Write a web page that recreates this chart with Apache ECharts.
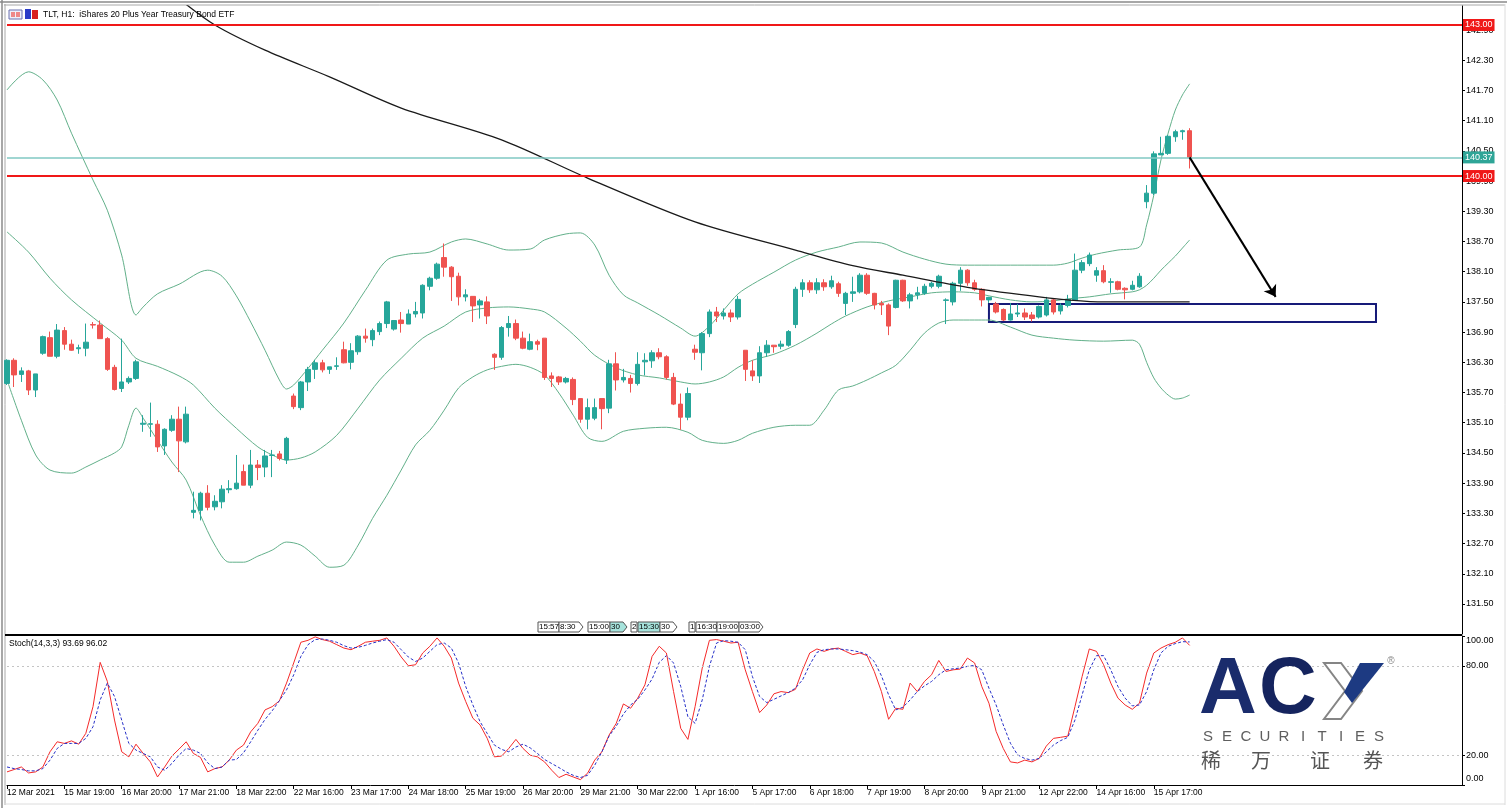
<!DOCTYPE html>
<html><head><meta charset="utf-8">
<script src="https://cdn.jsdelivr.net/npm/echarts/dist/echarts.min.js"></script>
<style>html,body{margin:0;padding:0;background:#fff}#c{width:1507px;height:808px}</style>
</head><body><div id="c"></div>
<script>
// ---------------- DATA ----------------
const dateLabels = ['12 Mar 2021','15 Mar 19:00','16 Mar 20:00','17 Mar 21:00','18 Mar 22:00','22 Mar 16:00','23 Mar 17:00','24 Mar 18:00','25 Mar 19:00','26 Mar 20:00','29 Mar 21:00','30 Mar 22:00','1 Apr 16:00','5 Apr 17:00','6 Apr 18:00','7 Apr 19:00','8 Apr 20:00','9 Apr 21:00','12 Apr 22:00','14 Apr 16:00','15 Apr 17:00'];
const labelStep = 8;
const slotCount = 204;

const opens = [135.88,136.34,136.06,136.13,135.75,136.48,136.79,136.42,136.93,136.66,
136.57,136.58,137.05,137.04,136.77,136.20,135.78,135.91,135.98,135.07,
135.07,135.07,134.64,134.95,135.17,134.72,133.32,133.36,133.70,133.43,
133.53,133.77,133.79,134.13,133.86,134.26,134.22,134.45,134.48,134.36,
135.63,135.40,135.91,136.16,136.29,136.16,136.22,136.55,136.30,136.51,
136.82,136.75,136.91,137.07,136.96,137.14,137.06,137.26,137.28,137.81,
137.97,138.38,138.19,138.01,137.60,137.61,137.44,137.50,136.46,136.40,
136.99,137.07,136.78,136.56,136.71,136.78,136.03,136.01,135.91,135.96,
135.58,135.17,135.19,135.58,135.39,136.27,135.95,135.98,135.88,136.31,
136.33,136.49,136.41,136.00,135.47,135.21,136.56,136.49,136.87,137.30,
137.22,137.28,137.20,136.54,136.13,136.03,136.49,136.64,136.62,136.64,
137.05,137.75,137.88,137.74,137.88,137.80,137.86,137.47,137.67,137.70,
138.03,137.67,137.47,137.44,137.39,137.93,137.52,137.64,137.67,137.81,
137.81,137.53,137.50,137.87,138.13,137.88,137.75,137.54,137.46,137.35,
137.14,137.26,137.28,137.24,137.20,137.24,137.54,137.32,137.43,137.54,
138.13,138.26,138.03,138.12,137.89,137.90,137.77,137.75,137.80,139.49,
139.66,140.42,140.45,140.78,140.88,140.90];
const closes = [136.34,136.05,136.13,135.75,136.07,136.81,136.42,136.94,136.66,136.54,
136.59,136.70,137.04,136.77,136.16,135.76,135.91,135.98,136.31,135.09,
135.08,134.62,134.97,135.17,134.74,135.27,133.36,133.70,133.42,133.54,
133.78,133.79,133.90,133.86,134.26,134.21,134.44,134.46,134.39,134.79,
135.42,135.91,136.16,136.29,136.15,136.21,136.23,136.29,136.53,136.82,
136.78,136.93,137.07,137.50,137.13,137.07,137.26,137.31,137.83,137.97,
138.25,138.19,138.00,137.60,137.64,137.42,137.52,137.22,136.40,136.99,
137.07,136.78,136.58,136.71,136.66,136.00,135.98,135.91,135.98,135.56,
135.17,135.40,135.40,135.38,136.27,135.95,136.00,135.88,136.26,136.34,
136.49,136.41,136.00,135.47,135.21,135.68,136.50,136.87,137.30,137.22,
137.28,137.20,137.55,136.16,136.03,136.49,136.64,136.61,136.66,136.91,
137.75,137.88,137.74,137.88,137.80,137.92,137.67,137.67,137.70,138.03,
137.67,137.44,137.44,137.02,137.93,137.52,137.64,137.68,137.81,137.87,
138.01,137.54,137.87,138.13,137.88,137.75,137.54,137.59,137.30,137.14,
137.26,137.28,137.20,137.17,137.41,137.54,137.30,137.43,137.55,138.13,
138.28,138.43,138.12,137.90,137.90,137.75,137.74,137.83,138.01,139.66,
140.44,140.45,140.79,140.88,140.90,140.37];
const lows = [135.85,135.81,135.91,135.65,135.61,136.45,136.42,136.38,136.55,136.53,
136.47,136.42,136.97,136.77,136.13,135.74,135.71,135.87,135.95,134.92,
134.82,134.52,134.46,134.92,134.12,134.69,133.20,133.16,133.36,133.36,
133.40,133.70,133.77,133.86,133.80,133.96,134.02,134.02,134.35,134.28,
135.37,135.35,135.73,135.97,136.10,136.07,136.15,136.28,136.16,136.45,
136.69,136.62,136.84,136.98,136.93,136.89,137.06,137.19,137.17,137.73,
137.94,138.00,137.52,137.43,137.51,137.10,137.17,137.06,136.15,136.35,
136.81,136.74,136.56,136.54,136.54,135.95,135.81,135.85,135.88,135.45,
135.10,134.97,135.15,134.97,135.29,135.74,135.90,135.70,135.84,136.04,
136.19,136.36,135.96,135.45,134.96,135.15,136.35,136.14,136.80,137.10,
137.15,137.10,137.15,135.93,135.93,135.89,136.41,136.49,136.56,136.61,
136.98,137.60,137.68,137.66,137.72,137.76,137.60,137.24,137.50,137.67,
137.64,137.35,137.24,136.84,137.37,137.50,137.37,137.55,137.64,137.77,
137.77,137.06,137.43,137.72,137.82,137.72,137.41,137.48,137.27,137.12,
137.13,137.20,137.14,137.11,137.17,137.21,137.25,137.25,137.39,137.52,
138.07,138.21,137.90,137.87,137.68,137.73,137.55,137.73,137.78,139.36,
139.62,140.42,140.42,140.68,140.72,140.15];
const highs = [136.36,136.38,136.20,136.15,136.07,136.83,136.91,137.06,137.00,136.75,
136.65,137.07,137.10,137.13,136.80,136.25,136.77,136.02,136.35,135.25,
135.50,135.15,134.99,135.25,135.42,135.42,133.73,133.73,133.86,133.66,
133.86,133.96,134.46,134.27,134.56,134.36,134.56,134.56,134.54,134.82,
135.68,135.93,136.21,136.35,136.35,136.21,136.40,136.71,136.68,136.84,
136.97,136.97,137.11,137.52,137.14,137.30,137.35,137.50,137.85,138.00,
138.28,138.66,138.21,138.08,137.75,137.61,137.56,137.61,136.48,137.02,
137.22,137.15,136.91,136.87,136.75,136.78,136.10,136.03,136.01,136.00,
135.58,135.58,135.58,135.58,136.35,136.50,136.17,136.05,136.50,136.48,
136.54,136.58,136.44,136.09,135.68,135.80,136.65,136.90,137.35,137.40,
137.37,137.35,137.62,136.54,136.34,136.62,136.74,136.64,136.73,136.94,
137.80,137.95,137.93,137.97,137.95,138.02,137.90,137.70,138.00,138.07,
138.07,137.68,137.52,137.47,137.94,137.94,137.68,137.80,137.86,137.90,
138.04,137.57,137.90,138.19,138.15,137.94,137.77,137.60,137.50,137.37,
137.48,137.46,137.37,137.30,137.43,137.60,137.57,137.47,137.64,138.46,
138.33,138.48,138.19,138.23,137.97,137.92,137.79,137.92,138.07,139.82,
140.49,140.78,140.81,140.92,140.92,140.95];

// Bollinger bands (read at sample bars)
const upperIdx = [0,3,5,7,9,12,14,16,18,19,21,24,28,30,32,34,36,38,39,40,42,44,47,50,53,56,59,62,64,67,70,73,75,78,80,82,84,86,88,91,94,96,98,100,102,104,107,110,113,116,119,122,125,128,131,134,138,142,146,148,150,152,155,158,159,160,161,162,163,164,165];
const upperVal = [141.71,142.07,141.91,141.51,140.85,139.92,139.32,138.43,137.24,137.40,137.66,137.85,138.13,138.01,137.62,137.10,136.54,135.95,135.77,135.85,136.18,136.54,137.08,137.73,138.33,138.45,138.49,138.69,138.75,138.65,138.53,138.55,138.73,138.85,138.87,138.63,138.03,137.64,137.48,137.24,136.98,136.82,137.02,137.34,137.66,137.85,138.09,138.33,138.49,138.59,138.69,138.67,138.49,138.35,138.25,138.23,138.23,138.23,138.23,138.27,138.37,138.45,138.53,138.59,139.03,139.62,140.32,140.85,141.31,141.61,141.83];
const middleIdx = [0,3,6,9,13,16,18,21,24,26,29,32,35,37,39,41,43,46,49,52,55,58,61,64,67,70,73,75,78,80,82,85,88,91,94,96,98,100,102,104,107,110,113,115,117,120,123,126,129,132,135,137,140,143,146,148,151,154,157,158,159,160,161,162,163,164,165];
const middleVal = [138.89,138.49,137.97,137.54,137.08,136.74,136.38,136.22,136.03,135.85,135.39,134.99,134.62,134.46,134.36,134.40,134.52,134.85,135.39,135.95,136.38,136.78,137.02,137.30,137.38,137.40,137.36,137.30,136.98,136.72,136.44,136.19,136.05,135.99,135.91,135.87,135.91,136.01,136.20,136.34,136.46,136.64,136.88,137.06,137.22,137.40,137.52,137.60,137.68,137.70,137.68,137.62,137.54,137.50,137.52,137.56,137.60,137.66,137.70,137.74,137.83,137.97,138.13,138.27,138.41,138.57,138.73];
const lowerIdx = [0,2,4,6,9,11,13,15,16,17,18,19,21,23,25,27,29,31,33,35,37,39,41,43,45,47,49,51,53,55,57,59,61,63,65,67,69,71,73,75,77,79,81,83,86,89,92,95,97,100,102,104,107,110,112,114,116,118,120,122,124,126,128,130,132,135,137,140,143,146,149,153,157,158,159,160,161,162,163,164,165];
const lowerVal = [135.95,135.15,134.46,134.16,134.10,134.22,134.36,134.50,134.62,135.05,135.39,135.19,134.75,134.32,133.96,133.26,132.67,132.33,132.33,132.45,132.57,132.73,132.67,132.45,132.23,132.27,132.67,133.20,133.66,134.16,134.66,134.95,135.35,135.79,136.01,136.15,136.22,136.26,136.20,136.05,135.69,135.25,134.81,134.73,134.93,134.99,135.01,134.91,134.75,134.69,134.75,134.89,135.01,135.05,135.05,135.35,135.75,135.83,135.95,136.09,136.24,136.54,136.88,137.08,137.14,137.14,137.14,137.00,136.84,136.78,136.74,136.72,136.74,136.66,136.30,135.99,135.79,135.65,135.57,135.59,135.65];

// moving average (black)
const maIdx = [24,29,36,45,55,69,81,96,110,118,125,134,144,148,153,165];
const maVal = [143.52,143.00,142.50,141.97,141.35,140.72,139.96,139.09,138.53,138.22,138.03,137.79,137.60,137.54,137.50,137.50];

// Stochastic (14,3,3)
const stochK = [8.8,10.4,12.1,8.1,8.8,12.1,22.3,29.0,27.9,29.6,
27.4,34.7,52.6,82.3,69.5,43.6,22.3,18.9,27.4,21.2,
15.5,5.4,12.1,19.4,24.1,29.0,21.2,18.5,8.8,11.0,
12.1,16.7,23.4,26.8,35.7,41.4,50.4,52.6,56.4,68.4,
81.9,95.8,97.1,99.4,97.6,96.5,94.2,91.9,90.8,93.1,
95.8,96.5,97.1,98.7,93.1,85.9,80.0,80.7,88.6,93.1,
98.7,93.1,85.2,68.4,56.0,44.8,40.3,31.3,18.9,19.4,
24.5,30.6,24.5,20.0,18.9,15.5,9.9,5.0,7.2,5.4,
3.6,7.9,16.7,22.3,33.5,41.4,54.4,51.5,58.3,67.2,
86.3,93.1,88.6,62.7,38.0,30.6,52.6,78.5,97.1,97.6,
96.5,95.3,95.8,77.3,62.7,48.6,53.7,61.2,62.7,62.0,
64.2,77.3,88.6,91.3,89.7,91.3,91.9,89.7,87.5,88.6,
86.8,76.2,62.7,44.1,51.5,50.8,68.4,62.7,69.5,74.0,
83.6,76.2,77.3,77.8,85.2,81.9,66.1,54.9,36.0,24.5,
15.5,14.8,16.7,15.5,17.8,26.1,31.3,32.0,32.8,52.6,
72.8,91.3,89.7,80.7,68.4,58.3,53.7,50.8,54.9,75.1,
88.6,91.9,94.2,95.8,98.7,93.69];
const stochD = [12.1,11.0,10.4,9.5,9.5,11.0,16.7,24.5,27.9,27.9,
27.9,31.3,39.1,57.1,68.4,59.4,43.6,27.9,23.4,21.2,
18.9,12.1,9.9,14.4,20.0,24.5,23.4,21.2,14.9,11.0,
12.1,16.7,17.1,21.6,29.0,36.8,44.0,49.8,56.6,63.8,
73.9,86.3,94.2,97.6,98.0,97.1,95.8,93.5,91.9,92.4,
93.7,95.3,96.5,97.6,95.8,90.8,85.9,82.9,85.2,89.7,
94.2,95.3,91.9,81.9,66.1,53.7,42.5,34.6,26.8,23.9,
22.3,25.5,27.4,24.9,21.2,17.1,14.4,11.7,8.8,6.5,
5.0,6.5,13.3,22.3,32.8,39.5,47.6,53.7,57.5,63.8,
71.1,82.3,86.8,81.9,66.1,45.8,41.4,57.1,79.6,95.3,
96.9,96.5,95.8,90.8,72.8,59.4,55.3,57.5,59.8,62.0,
65.0,70.6,80.7,89.0,90.8,91.3,91.3,90.8,90.2,89.2,
87.5,82.9,73.3,60.5,50.4,52.2,57.1,62.7,66.5,69.5,
74.0,77.3,78.0,78.5,79.6,80.3,77.3,65.0,53.7,40.3,
28.0,20.2,17.8,16.7,17.8,22.3,26.8,29.8,32.0,43.6,
60.5,77.3,86.8,86.8,77.3,66.1,58.3,53.1,53.7,62.7,
77.3,88.6,93.1,94.9,96.2,96.02];

const priceTicks = [131.5,132.1,132.7,133.3,133.9,134.5,135.1,135.7,136.3,136.9,137.5,138.1,138.7,139.3,139.9,140.5,141.1,141.7,142.3,142.9];
const stochTicks = [0,20,80,100];
const stochLevels = [20,80];
const resistanceLevels = [143.00,140.00];
const lastPrice = 140.37;
const boxStart = 137, boxEnd = 191, boxTop = 137.46, boxBottom = 137.10;
const arrowFrom = [165, 140.37], arrowTo = [177, 137.60];

// ---------------- CHART ----------------
const FONT = '"Liberation Sans", Arial, sans-serif';
const categories = Array.from({length: slotCount}, (_, k) => String(k));
const isLabelSlot = k => k % labelStep === 0 && k / labelStep < dateLabels.length;
const candleData = opens.map((o, i) => [o, closes[i], lows[i], highs[i]]);
const pairs = (idx, val) => idx.map((k, j) => [k, val[j]]);

const chart = echarts.init(document.getElementById('c'), null, {renderer: 'canvas', width: 1507, height: 808});

const bandStyle = {color: '#62b08a', width: 1};
const events = [
  {x:538,w:21,t:'15:57'},{x:559,w:24,t:'8:30',a:1},{x:588,w:22,t:'15:00'},{x:610,w:17,t:'30',f:'#a6e3dc',a:1},
  {x:631,w:6,t:'2'},{x:638,w:22,t:'15:30',f:'#a6e3dc'},{x:660,w:17,t:'30',a:1},{x:689,w:6,t:'1'},
  {x:696,w:21,t:'16:30'},{x:717,w:22,t:'19:00'},{x:739,w:24,t:'03:00',a:1}
];
const eventEls = [];
events.forEach(e => {
  const x0 = e.x, x1 = e.x + e.w;
  const pts = e.a ? [[x0,622],[x1-4,622],[x1,627],[x1-4,632],[x0,632]] : [[x0,622],[x1,622],[x1,632],[x0,632]];
  eventEls.push({type:'polygon', shape:{points:pts}, style:{fill:e.f||'#fff', stroke:'#555', lineWidth:1}, z:20});
  eventEls.push({type:'text', x:x0+1, y:627, style:{text:e.t, font:'8px ' + FONT, fill:'#000', textVerticalAlign:'middle'}, z:21});
});

const secLetters = 'SECURITIES'.split('');
const logoEls = [
  {type:'text', x:1199, y:691, style:{text:'A', font:'bold 80px ' + FONT, fill:'#1a2c6c', textVerticalAlign:'middle'}, z:30},
  {type:'text', x:1259, y:691, style:{text:'C', font:'bold 80px ' + FONT, fill:'#15245e', textVerticalAlign:'middle'}, z:30},
  {type:'polygon', shape:{points:[[1324,663],[1341,663],[1362,691],[1341,719],[1324,719],[1345,691]]}, style:{fill:'#fff', stroke:'#858585', lineWidth:2}, z:30},
  {type:'polygon', shape:{points:[[1360,663],[1384,663],[1352,703],[1344,692]]}, style:{fill:'#1d3a82'}, z:31},
  {type:'text', x:1391, y:661, style:{text:'®', font:'10px ' + FONT, fill:'#888', textAlign:'center', textVerticalAlign:'middle'}, z:30}
];
secLetters.forEach((ch, k) => logoEls.push({type:'text', x:1208 + k*19, y:737, style:{text:ch, font:'15px ' + FONT, fill:'#5e5e5e', textAlign:'center', textVerticalAlign:'middle'}, z:30}));
['稀','万','证','券'].forEach((ch, k) => logoEls.push({type:'text', x:[1211,1261,1320,1373][k], y:760, style:{text:ch, font:'20px "Noto Sans CJK SC"', fill:'#555', textAlign:'center', textVerticalAlign:'middle'}, z:30}));

const option = {
  animation: false,
  backgroundColor: '#fff',
  grid: [
    {left: 7, right: 45, top: 6, height: 628, outerBoundsMode: 'none', containLabel: false},
    {left: 7, right: 45, top: 636, height: 149, outerBoundsMode: 'none', containLabel: false}
  ],
  xAxis: [
    {type:'category', gridIndex:0, data:categories, boundaryGap:false,
     axisLine:{show:false}, axisTick:{show:false}, axisLabel:{show:false}, splitLine:{show:false}},
    {type:'category', gridIndex:1, data:categories, boundaryGap:false,
     axisLine:{show:true, lineStyle:{color:'#000', width:1}},
     axisTick:{show:true, length:4, interval:(i) => isLabelSlot(i), lineStyle:{color:'#000'}},
     axisLabel:{show:true, interval:(i) => isLabelSlot(i), formatter:(v, i) => isLabelSlot(i) ? dateLabels[i / labelStep] : '',
       align:'left', margin:3, fontSize:8.5, fontFamily:FONT, color:'#000'},
     splitLine:{show:false}}
  ],
  yAxis: [
    {type:'value', gridIndex:0, position:'right', min:130.904, max:143.377,
     splitLine:{show:false},
     axisLine:{show:true, lineStyle:{color:'#000'}},
     axisTick:{show:true, length:3, customValues:priceTicks, lineStyle:{color:'#000'}},
     axisLabel:{show:true, customValues:priceTicks, formatter:v => Number(v).toFixed(2), margin:4, fontSize:9, fontFamily:FONT, color:'#000'}},
    {type:'value', gridIndex:1, position:'right', min:0, max:100,
     splitLine:{show:false},
     axisLine:{show:true, lineStyle:{color:'#000'}},
     axisTick:{show:true, length:3, customValues:stochTicks, lineStyle:{color:'#000'}},
     axisLabel:{show:true, customValues:stochTicks, margin:4, fontSize:9, fontFamily:FONT, color:'#000',
       formatter:v => v === 100 ? '{t|100.00}' : (v === 0 ? '{b|0.00}' : Number(v).toFixed(2)),
       rich:{t:{padding:[10,0,0,0], fontSize:9, fontFamily:FONT}, b:{padding:[0,0,12,0], fontSize:9, fontFamily:FONT}}}}
  ],
  series: [
    {type:'line', name:'upper', xAxisIndex:0, yAxisIndex:0, data:pairs(upperIdx, upperVal), smooth:0.3, showSymbol:false, lineStyle:bandStyle, z:2},
    {type:'line', name:'middle', xAxisIndex:0, yAxisIndex:0, data:pairs(middleIdx, middleVal), smooth:0.3, showSymbol:false, lineStyle:bandStyle, z:2},
    {type:'line', name:'lower', xAxisIndex:0, yAxisIndex:0, data:pairs(lowerIdx, lowerVal), smooth:0.3, showSymbol:false, lineStyle:bandStyle, z:2},
    {type:'candlestick', name:'TLT', xAxisIndex:0, yAxisIndex:0, data:candleData, barWidth:5, z:3,
     itemStyle:{color:'#26a69a', color0:'#ef5350', borderColor:'#26a69a', borderColor0:'#ef5350', borderWidth:1},
     markLine:{silent:true, symbol:['none','none'],
       label:{show:true, position:'end', distance:1, color:'#fff', fontSize:9, fontFamily:FONT, padding:[2,2,1,2],
              formatter:p => Number(p.value).toFixed(2)},
       data:[
         ...resistanceLevels.map(v => ({yAxis:v, lineStyle:{color:'#f01818', width:2, type:'solid'}, label:{backgroundColor:'#f01818'}})),
         {yAxis:lastPrice, lineStyle:{color:'#80c9c3', width:1.5, type:'solid'}, label:{backgroundColor:'#2ea597'}}
       ]},
     markArea:{silent:true, itemStyle:{color:'rgba(0,0,0,0)', borderColor:'#161a78', borderWidth:2},
       data:[[{coord:[boxStart, boxTop]}, {coord:[boxEnd, boxBottom]}]]}
    },
    {type:'line', name:'ma', xAxisIndex:0, yAxisIndex:0, data:pairs(maIdx, maVal), smooth:0.3, showSymbol:false, lineStyle:{color:'#1a1a1a', width:1.3}, z:4,
     markLine:{silent:true, symbol:['none','arrow'], symbolSize:11, label:{show:false},
       lineStyle:{color:'#000', width:2, type:'solid'},
       data:[[{coord:arrowFrom}, {coord:arrowTo}]]}},
    {type:'line', name:'%K', xAxisIndex:1, yAxisIndex:1, data:stochK, showSymbol:false, lineStyle:{color:'#f42a2a', width:1}, z:3,
     markLine:{silent:true, symbol:['none','none'], label:{show:false},
       lineStyle:{color:'#c4c4c4', width:1, type:[2,3]},
       data:stochLevels.map(v => ({yAxis:v}))}},
    {type:'line', name:'%D', xAxisIndex:1, yAxisIndex:1, data:stochD, showSymbol:false, lineStyle:{color:'#2630c8', width:1, type:[3,2]}, z:3}
  ],
  graphic: {elements: [
    {type:'line', shape:{x1:0,y1:2,x2:1507,y2:2}, style:{stroke:'#8a8a8a', lineWidth:1.5}},
    {type:'line', shape:{x1:2,y1:0,x2:2,y2:808}, style:{stroke:'#8a8a8a', lineWidth:1.5}},
    {type:'line', shape:{x1:4,y1:5,x2:1505,y2:5}, style:{stroke:'#a8a8a8', lineWidth:1}},
    {type:'line', shape:{x1:5,y1:4,x2:5,y2:805}, style:{stroke:'#a8a8a8', lineWidth:1}},
    {type:'line', shape:{x1:1505,y1:4,x2:1505,y2:805}, style:{stroke:'#dcdcdc', lineWidth:1}},
    {type:'line', shape:{x1:4,y1:804,x2:1505,y2:804}, style:{stroke:'#dcdcdc', lineWidth:1}},
    {type:'line', shape:{x1:5,y1:635,x2:1462,y2:635}, style:{stroke:'#000', lineWidth:2}, z:10},
    {type:'rect', shape:{x:9,y:10,width:13,height:9}, style:{fill:'#eef0fa', stroke:'#6a70b0', lineWidth:1}, z:20},
    {type:'rect', shape:{x:11,y:12,width:4,height:5}, style:{fill:'#e88'}, z:21},
    {type:'rect', shape:{x:16,y:12,width:4,height:5}, style:{fill:'#e88'}, z:21},
    {type:'rect', shape:{x:25,y:9,width:6,height:10}, style:{fill:'#2a3cc8'}, z:20},
    {type:'rect', shape:{x:32,y:10,width:6,height:9}, style:{fill:'#d82020'}, z:20},
    {type:'text', x:43, y:15, style:{text:'TLT, H1:  iShares 20 Plus Year Treasury Bond ETF', font:'8.5px ' + FONT, fill:'#000', textVerticalAlign:'middle'}, z:20},
    {type:'text', x:9, y:644, style:{text:'Stoch(14,3,3) 93.69 96.02', font:'8.5px ' + FONT, fill:'#000', textVerticalAlign:'middle'}, z:20},
    ...eventEls,
    ...logoEls
  ]}
};
chart.setOption(option);
</script>
</body></html>
